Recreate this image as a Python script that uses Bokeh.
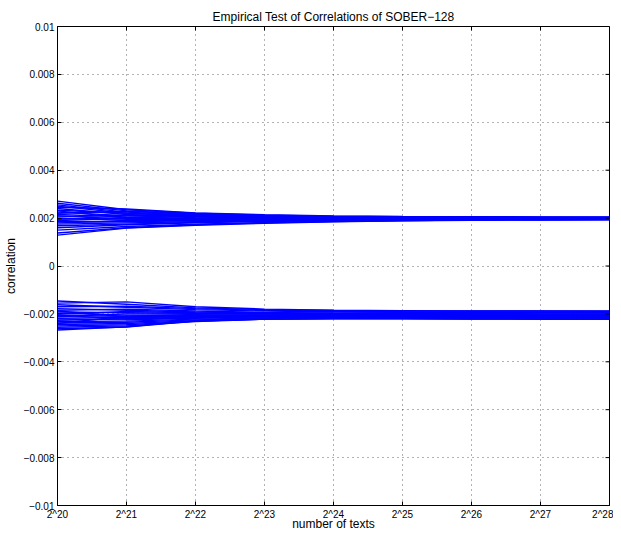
import math
from bokeh.plotting import figure
from bokeh.models import FixedTicker
from bokeh.embed import file_html
from bokeh.resources import INLINE

# exponents of 2 (number of texts = 2^x)
x_exp = [20, 21, 22, 23, 24, 25, 26, 27, 28]
x_tick_labels = ["2^20", "2^21", "2^22", "2^23", "2^24", "2^25", "2^26", "2^27", "2^28"]

y_ticks = [-0.01, -0.008, -0.006, -0.004, -0.002, 0, 0.002, 0.004, 0.006, 0.008, 0.01]
y_tick_labels = ["\u22120.01", "\u22120.008", "\u22120.006", "\u22120.004", "\u22120.002", "0",
                 "0.002", "0.004", "0.006", "0.008", "0.01"]

# upper group of correlations (converging to +0.002)
upper = [
    [2.71e-3, 2.35e-3, 2.20e-3, 2.12e-3, 2.08e-3, 2.06e-3, 2.05e-3, 2.04e-3, 2.04e-3],
    [2.62e-3, 2.30e-3, 2.18e-3, 2.10e-3, 2.06e-3, 2.04e-3, 2.03e-3, 2.03e-3, 2.02e-3],
    [2.55e-3, 2.25e-3, 2.12e-3, 2.05e-3, 2.02e-3, 2.01e-3, 2.01e-3, 2.00e-3, 2.00e-3],
    [2.45e-3, 2.38e-3, 2.22e-3, 2.14e-3, 2.09e-3, 2.07e-3, 2.06e-3, 2.05e-3, 2.05e-3],
    [2.40e-3, 2.15e-3, 2.05e-3, 2.00e-3, 1.98e-3, 1.97e-3, 1.97e-3, 1.97e-3, 1.97e-3],
    [2.33e-3, 2.20e-3, 2.10e-3, 2.06e-3, 2.03e-3, 2.02e-3, 2.02e-3, 2.01e-3, 2.01e-3],
    [2.25e-3, 2.10e-3, 2.02e-3, 1.98e-3, 1.97e-3, 1.98e-3, 1.98e-3, 1.98e-3, 1.99e-3],
    [2.20e-3, 2.28e-3, 2.15e-3, 2.08e-3, 2.05e-3, 2.04e-3, 2.03e-3, 2.03e-3, 2.03e-3],
    [2.15e-3, 2.05e-3, 1.98e-3, 1.95e-3, 1.95e-3, 1.96e-3, 1.96e-3, 1.97e-3, 1.97e-3],
    [2.10e-3, 1.95e-3, 1.92e-3, 1.93e-3, 1.94e-3, 1.95e-3, 1.95e-3, 1.96e-3, 1.96e-3],
    [2.05e-3, 2.12e-3, 2.08e-3, 2.04e-3, 2.02e-3, 2.01e-3, 2.00e-3, 2.00e-3, 2.00e-3],
    [2.00e-3, 1.90e-3, 1.88e-3, 1.90e-3, 1.92e-3, 1.94e-3, 1.95e-3, 1.95e-3, 1.95e-3],
    [1.95e-3, 2.02e-3, 2.06e-3, 2.05e-3, 2.03e-3, 2.02e-3, 2.02e-3, 2.02e-3, 2.02e-3],
    [1.90e-3, 1.98e-3, 1.99e-3, 1.99e-3, 1.99e-3, 1.99e-3, 2.00e-3, 2.00e-3, 2.00e-3],
    [1.85e-3, 1.85e-3, 1.90e-3, 1.93e-3, 1.95e-3, 1.96e-3, 1.97e-3, 1.97e-3, 1.98e-3],
    [1.80e-3, 1.88e-3, 1.95e-3, 1.98e-3, 2.00e-3, 2.00e-3, 2.01e-3, 2.01e-3, 2.01e-3],
    [1.75e-3, 1.80e-3, 1.85e-3, 1.90e-3, 1.93e-3, 1.94e-3, 1.95e-3, 1.96e-3, 1.96e-3],
    [1.68e-3, 1.75e-3, 1.82e-3, 1.88e-3, 1.92e-3, 1.93e-3, 1.94e-3, 1.95e-3, 1.95e-3],
    [1.60e-3, 1.72e-3, 1.80e-3, 1.86e-3, 1.90e-3, 1.93e-3, 1.94e-3, 1.95e-3, 1.95e-3],
    [1.50e-3, 1.65e-3, 1.75e-3, 1.82e-3, 1.87e-3, 1.90e-3, 1.92e-3, 1.93e-3, 1.94e-3],
    [1.38e-3, 1.60e-3, 1.72e-3, 1.80e-3, 1.86e-3, 1.90e-3, 1.92e-3, 1.93e-3, 1.94e-3],
    [1.29e-3, 1.58e-3, 1.70e-3, 1.78e-3, 1.85e-3, 1.89e-3, 1.91e-3, 1.92e-3, 1.93e-3],
    [2.50e-3, 2.20e-3, 2.08e-3, 2.03e-3, 2.01e-3, 2.00e-3, 1.99e-3, 1.99e-3, 1.99e-3],
    [2.30e-3, 2.00e-3, 1.96e-3, 1.96e-3, 1.97e-3, 1.98e-3, 1.98e-3, 1.98e-3, 1.98e-3],
]

# lower group of correlations (converging to -0.002)
lower = [
    [-1.46e-3, -1.60e-3, -1.75e-3, -1.82e-3, -1.86e-3, -1.87e-3, -1.88e-3, -1.88e-3, -1.88e-3],
    [-1.55e-3, -1.50e-3, -1.70e-3, -1.80e-3, -1.85e-3, -1.87e-3, -1.88e-3, -1.88e-3, -1.89e-3],
    [-1.62e-3, -1.72e-3, -1.82e-3, -1.88e-3, -1.91e-3, -1.92e-3, -1.93e-3, -1.93e-3, -1.94e-3],
    [-1.70e-3, -1.68e-3, -1.78e-3, -1.85e-3, -1.89e-3, -1.91e-3, -1.92e-3, -1.93e-3, -1.93e-3],
    [-1.78e-3, -1.85e-3, -1.92e-3, -1.96e-3, -1.98e-3, -1.99e-3, -1.99e-3, -2.00e-3, -2.00e-3],
    [-1.85e-3, -1.80e-3, -1.88e-3, -1.94e-3, -1.97e-3, -1.98e-3, -1.99e-3, -2.00e-3, -2.00e-3],
    [-1.92e-3, -1.95e-3, -1.98e-3, -2.00e-3, -2.02e-3, -2.03e-3, -2.04e-3, -2.04e-3, -2.05e-3],
    [-1.98e-3, -2.05e-3, -2.05e-3, -2.04e-3, -2.04e-3, -2.04e-3, -2.05e-3, -2.05e-3, -2.05e-3],
    [-2.02e-3, -1.90e-3, -1.95e-3, -1.99e-3, -2.01e-3, -2.02e-3, -2.02e-3, -2.03e-3, -2.03e-3],
    [-2.08e-3, -2.10e-3, -2.08e-3, -2.06e-3, -2.05e-3, -2.05e-3, -2.05e-3, -2.06e-3, -2.06e-3],
    [-2.12e-3, -2.00e-3, -2.00e-3, -2.01e-3, -2.02e-3, -2.03e-3, -2.03e-3, -2.03e-3, -2.04e-3],
    [-2.18e-3, -2.15e-3, -2.12e-3, -2.10e-3, -2.09e-3, -2.09e-3, -2.09e-3, -2.09e-3, -2.10e-3],
    [-2.22e-3, -2.25e-3, -2.18e-3, -2.13e-3, -2.11e-3, -2.11e-3, -2.12e-3, -2.13e-3, -2.13e-3],
    [-2.27e-3, -2.20e-3, -2.14e-3, -2.11e-3, -2.10e-3, -2.10e-3, -2.10e-3, -2.10e-3, -2.10e-3],
    [-2.32e-3, -2.30e-3, -2.22e-3, -2.17e-3, -2.15e-3, -2.15e-3, -2.15e-3, -2.15e-3, -2.15e-3],
    [-2.38e-3, -2.35e-3, -2.25e-3, -2.19e-3, -2.17e-3, -2.17e-3, -2.18e-3, -2.18e-3, -2.18e-3],
    [-2.44e-3, -2.40e-3, -2.28e-3, -2.20e-3, -2.18e-3, -2.18e-3, -2.19e-3, -2.20e-3, -2.20e-3],
    [-2.50e-3, -2.45e-3, -2.30e-3, -2.22e-3, -2.19e-3, -2.19e-3, -2.20e-3, -2.21e-3, -2.21e-3],
    [-2.56e-3, -2.50e-3, -2.32e-3, -2.22e-3, -2.20e-3, -2.20e-3, -2.21e-3, -2.22e-3, -2.22e-3],
    [-2.62e-3, -2.55e-3, -2.30e-3, -2.21e-3, -2.19e-3, -2.19e-3, -2.20e-3, -2.21e-3, -2.22e-3],
    [-2.67e-3, -2.54e-3, -2.28e-3, -2.18e-3, -2.15e-3, -2.14e-3, -2.14e-3, -2.14e-3, -2.14e-3],
    [-1.88e-3, -2.12e-3, -2.10e-3, -2.07e-3, -2.06e-3, -2.06e-3, -2.07e-3, -2.07e-3, -2.07e-3],
    [-2.05e-3, -2.22e-3, -2.16e-3, -2.12e-3, -2.10e-3, -2.09e-3, -2.08e-3, -2.08e-3, -2.08e-3],
    [-2.40e-3, -2.10e-3, -2.02e-3, -1.98e-3, -1.96e-3, -1.95e-3, -1.95e-3, -1.95e-3, -1.95e-3],
]

FONT = "Liberation Sans"

p = figure(width=613, height=533, x_range=(20, 28), y_range=(-0.01, 0.01),
           output_backend="svg", toolbar_location=None,
           title="Empirical Test of Correlations of SOBER\u2212128",
           min_border_left=0, min_border_right=4, min_border_top=26, min_border_bottom=0)

p.title.align = "center"
p.title.text_font = FONT
p.title.text_font_size = "12px"
p.title.text_font_style = "normal"
p.title.text_color = "black"
p.title.standoff = 6
p.title.offset = 0

all_lines = upper + lower
p.multi_line(xs=[x_exp] * len(all_lines), ys=all_lines, line_color="#0000ff", line_width=1.4)

x_ticks = FixedTicker(ticks=x_exp)
y_tk = FixedTicker(ticks=y_ticks)

xa = p.xaxis[0]
xa.ticker = x_ticks
xa.major_label_overrides = {t: l for t, l in zip(x_exp, x_tick_labels)}
xa.axis_label = "number of texts"

ya = p.yaxis[0]
ya.ticker = y_tk
ya.major_label_overrides = {t: l for t, l in zip(y_ticks, y_tick_labels)}
ya.axis_label = "correlation"

for ax in (xa, ya):
    ax.major_tick_in = 4
    ax.major_tick_out = 0
    ax.minor_tick_in = 0
    ax.minor_tick_out = 0
    ax.major_label_text_font = FONT
    ax.major_label_text_font_size = "10px"
    ax.major_label_text_color = "black"
    ax.axis_label_text_font = FONT
    ax.axis_label_text_font_size = "12px"
    ax.axis_label_text_font_style = "normal"
    ax.axis_label_text_color = "black"
    ax.axis_line_color = "black"
    ax.major_tick_line_color = "black"

xa.major_label_standoff = 3
xa.axis_label_standoff = -6
ya.major_label_standoff = 3
ya.axis_label_standoff = 3

# inward ticks on the right and top edges of the box
p.scatter(x=[x_exp[-1]] * len(y_ticks), y=y_ticks, marker="dash", size=8,
          line_color="black", line_width=1)
p.scatter(x=x_exp, y=[y_ticks[-1]] * len(x_exp), marker="dash", size=8,
          angle=math.pi / 2, line_color="black", line_width=1)

p.xgrid.ticker = x_ticks
p.ygrid.ticker = y_tk
for g in (p.xgrid[0], p.ygrid[0]):
    g.grid_line_color = "black"
    g.grid_line_alpha = 0.6
    g.grid_line_dash = "1 4"
    g.grid_line_width = 1

p.outline_line_color = "black"
p.outline_line_width = 1
p.background_fill_color = "white"
p.border_fill_color = "white"

open("out.html", "w").write(file_html(p, INLINE))
